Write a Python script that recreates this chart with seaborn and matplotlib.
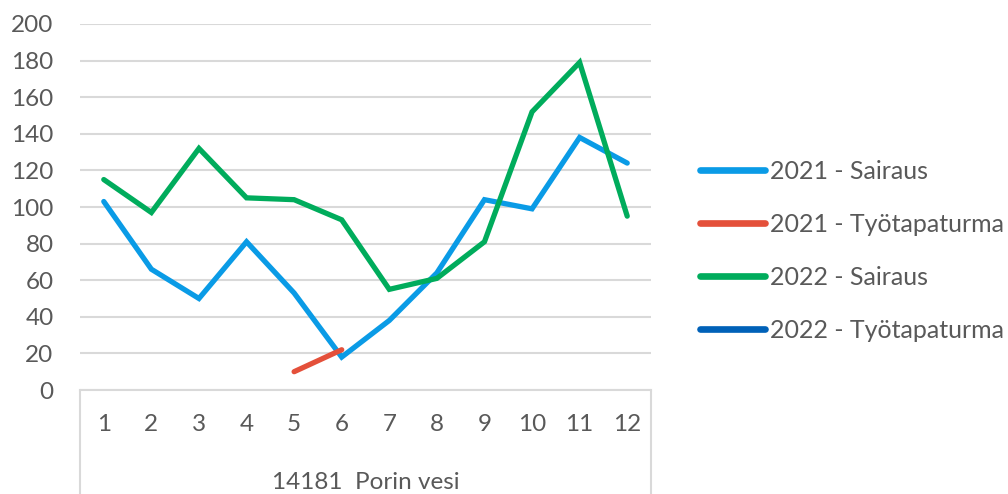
import numpy as np
import pandas as pd
import seaborn as sns
import matplotlib.pyplot as plt
from matplotlib.lines import Line2D

sns.set_style("white")
plt.rcParams['font.family'] = ['Lato', 'DejaVu Sans']

# data
months = list(range(1, 13))
sairaus_2021 = [103, 66, 50, 81, 53, 18, 38, 64, 104, 99, 138, 124]
tyotapaturma_2021 = [np.nan, np.nan, np.nan, np.nan, 10, 22, np.nan, np.nan, np.nan, np.nan, np.nan, np.nan]
sairaus_2022 = [115, 97, 132, 105, 104, 93, 55, 61, 81, 152, 179, 95]
tyotapaturma_2022 = [np.nan] * 12

series_names = ["2021 - Sairaus", "2021 - Työtapaturma", "2022 - Sairaus", "2022 - Työtapaturma"]
series_colors = ["#0A9BE6", "#E4503A", "#00AC5C", "#0061B8"]
group_label = "14181  Porin vesi"

frames = []
for name, vals in zip(series_names, [sairaus_2021, tyotapaturma_2021, sairaus_2022, tyotapaturma_2022]):
    frames.append(pd.DataFrame({"kk": months, "arvo": vals, "sarja": name}))
df = pd.concat(frames, ignore_index=True)

txt = "#595959"
grid = "#D9D9D9"
fs = 17.5

fig = plt.figure(figsize=(10.08, 4.94), dpi=100)
ax = fig.add_axes([80 / 1008, 104 / 494, 571 / 1008, 366 / 494])

for name, col in zip(series_names, series_colors):
    sub = df[df["sarja"] == name].dropna()
    if len(sub):
        sns.lineplot(data=sub, x="kk", y="arvo", color=col, linewidth=3.8, ax=ax,
                     solid_capstyle="round", solid_joinstyle="miter", legend=False)

ax.set_xlim(0.5, 12.5)
ax.set_ylim(0, 200)
ax.set_yticks(range(0, 201, 20))
ax.set_xticks(months)
ax.set_xticklabels([str(m) for m in months])
ax.yaxis.grid(True, color=grid, linewidth=1.5)
ax.set_axisbelow(True)
for s in ["left", "right", "top"]:
    ax.spines[s].set_visible(False)
ax.spines["bottom"].set_color(grid)
ax.spines["bottom"].set_linewidth(1.5)
ax.tick_params(axis="y", length=0, pad=19, labelsize=fs, labelcolor=txt)
ax.tick_params(axis="x", length=0, pad=17, labelsize=fs, labelcolor=txt)
ax.set_xlabel("")
ax.set_ylabel("")

# multi-level category frame
drop = -104 / 366
for xa in (0, 1):
    ax.plot([xa, xa], [0, drop], transform=ax.transAxes, color=grid, lw=1.5, clip_on=False)
ax.text(0.5, -92 / 366, group_label, transform=ax.transAxes, ha="center", va="center",
        fontsize=fs, color=txt)

handles = [Line2D([0], [0], color=c, lw=4.8, solid_capstyle="round") for c in series_colors]
fig.legend(handles, series_names, loc="center left", bbox_to_anchor=(690 / 1008, (494 - 251) / 494),
           frameon=False, fontsize=18, labelcolor=txt, handlelength=2.6, handletextpad=0.2,
           labelspacing=1.2, borderaxespad=0)

fig.savefig("out.png", dpi=100)
